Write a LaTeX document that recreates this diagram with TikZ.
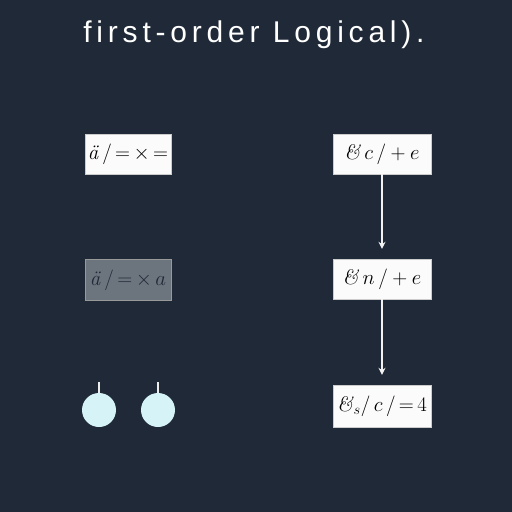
\documentclass[tikz,border=0pt]{standalone}
\usepackage{fontspec}
\usepackage{tikz}
\usetikzlibrary{arrows.meta, positioning}
\newfontfamily\titlefont[LetterSpace=16]{Liberation Sans}
\definecolor{bgnavy}{RGB}{31,41,55}
\definecolor{boxgray}{RGB}{108,116,126}
\definecolor{dotcyan}{RGB}{214,244,248}

\begin{document}
\begin{tikzpicture}[
  x=1pt, y=-1pt,
  every node/.style={font=\fontsize{21}{25}\selectfont, inner sep=2pt},
  flow/.style={-{Stealth[length=7pt,width=7pt]}, line width=1.3pt, draw=white!90!gray},
  tick/.style={line width=1.5pt, draw=white!85!gray},
]
  \fill[bgnavy] (0,0) rectangle (512,512);
  \useasboundingbox (0,0) rectangle (512,512);

  \node[anchor=base,text=white,font=\titlefont\fontsize{30}{33}\selectfont] (title) at (254,42) {first-order Logical).};

  % left column
  \node[rectangle,draw=gray!40,fill=white!97!gray,minimum width=86pt,minimum height=40pt] (A) at (128,154) {\textit{ä}$\,/\,{=}\,{\times}\,{=}$};
  \node[rectangle,draw=gray!80,fill=boxgray,text=bgnavy,minimum width=86pt,minimum height=41pt] (B) at (128,280) {\textit{ä}$\,/\,{=}\,{\times}\,a$};
  \node[circle,fill=dotcyan,minimum size=34pt,inner sep=0pt] (C1) at (99,410) {};
  \node[circle,fill=dotcyan,minimum size=34pt,inner sep=0pt] (C2) at (158,410) {};
  \draw[tick] (C1.north) -- ++(0,-11);
  \draw[tick] (C2.north) -- ++(0,-11);

  % right column
  \node[rectangle,draw=gray!40,fill=white!97!gray,minimum width=98pt,minimum height=40pt] (P) at (382,154) {\textit{\&}$\,c\,/+e$};
  \node[rectangle,draw=gray!40,fill=white!97!gray,minimum width=98pt,minimum height=40pt] (Q) at (382,279) {\textit{\&}$\,n\,/+e$};
  \node[rectangle,draw=gray!40,fill=white!97!gray,minimum width=98pt,minimum height=42pt] (R) at (382,406) {\textit{\&}$_s/\,c\,/\,{=}\,4$};

  \draw[flow,shorten >=10pt] (P) -- (Q);
  \draw[flow,shorten >=10pt] (Q) -- (R);
\end{tikzpicture}
\end{document}
